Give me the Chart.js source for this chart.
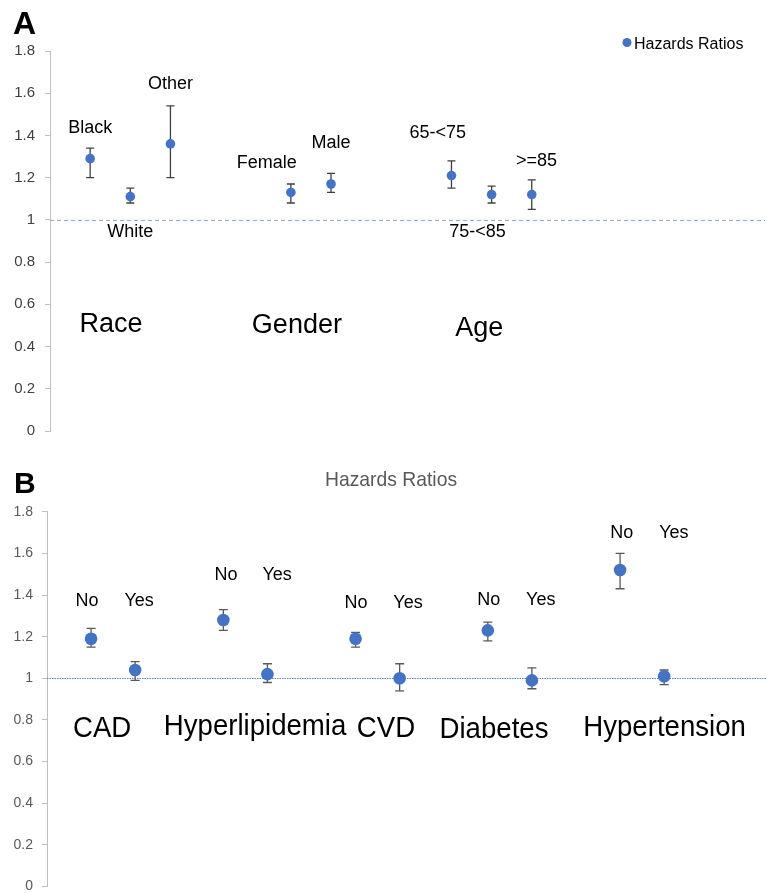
<!DOCTYPE html>
<html>
<head>
<meta charset="utf-8">
<script src="https://cdn.jsdelivr.net/npm/chart.js@4.4.1/dist/chart.umd.min.js"></script>
<style>
  html, body { margin: 0; padding: 0; background: #fff; overflow: hidden; }
  #wrapA { position: absolute; left: 0; top: 0; width: 767px; height: 450px; }
  #wrapB { position: absolute; left: 0; top: 450px; width: 767px; height: 460px; }
</style>
</head>
<body>
<div id="wrapA"><canvas id="chartA" width="767" height="450"></canvas></div>
<div id="wrapB"><canvas id="chartB" width="767" height="460"></canvas></div>
<script>
// ---- Panel A data ----
const groupsA = ['Black', 'White', 'Other', 'Female', 'Male', '65-<75', '75-<85', '>=85'];
const slotsA = [1, 2, 3, 6, 7, 10, 11, 12];
const hrA = [1.29, 1.11, 1.36, 1.13, 1.17, 1.21, 1.12, 1.12];
const lowA = [1.20, 1.08, 1.20, 1.08, 1.13, 1.15, 1.08, 1.05];
const highA = [1.34, 1.15, 1.54, 1.17, 1.22, 1.28, 1.16, 1.19];
const categoriesA = ['Race', 'Gender', 'Age'];

// ---- Panel B data ----
const groupsB = ['No', 'Yes', 'No', 'Yes', 'No', 'Yes', 'No', 'Yes', 'No', 'Yes'];
const slotsB = [1, 2, 4, 5, 7, 8, 10, 11, 13, 14];
const hrB = [1.19, 1.04, 1.28, 1.02, 1.19, 1.00, 1.23, 0.99, 1.52, 1.01];
const lowB = [1.15, 0.99, 1.23, 0.98, 1.15, 0.94, 1.18, 0.95, 1.43, 0.97];
const highB = [1.24, 1.08, 1.33, 1.07, 1.22, 1.07, 1.27, 1.05, 1.60, 1.04];
const categoriesB = ['CAD', 'Hyperlipidemia', 'CVD', 'Diabetes', 'Hypertension'];

const seriesName = 'Hazards Ratios';
const yTickValues = [0, 0.2, 0.4, 0.6, 0.8, 1, 1.2, 1.4, 1.6, 1.8];
const yTickLabels = ['0', '0.2', '0.4', '0.6', '0.8', '1', '1.2', '1.4', '1.6', '1.8'];

// where the annotation texts sit, in axis units
const groupLabelPosA = [[1, 1.411], [2, 0.921], [3, 1.619], [5.4, 1.246], [7, 1.341], [9.66, 1.388], [10.65, 0.917], [12.12, 1.256]];
const catLabelPosA = [[1.52, 0.47], [6.15, 0.465], [10.69, 0.45]];
const groupLabelPosB = [[0.91, 1.347], [2.09, 1.347], [4.06, 1.47], [5.22, 1.47], [7.01, 1.337], [8.19, 1.34], [10.02, 1.354], [11.2, 1.354], [13.04, 1.676], [14.22, 1.676]];
const catLabelPosB = [[1.25, 0.72], [4.72, 0.73], [7.69, 0.72], [10.14, 0.713], [14.01, 0.725]];

Chart.defaults.font.family = "'Liberation Sans', Arial, sans-serif";
Chart.defaults.animation = false;

// reference line, error bars and all the text
const overlay = {
  id: 'overlay',
  beforeDatasetsDraw(chart, args, o) {
    const { ctx, chartArea, scales: { x, y } } = chart;
    ctx.save();
    ctx.strokeStyle = o.refColor;
    ctx.lineWidth = o.refWidth;
    ctx.setLineDash(o.refDash);
    const yr = Math.round(y.getPixelForValue(1)) + 0.5;
    ctx.beginPath();
    ctx.moveTo(chartArea.left, yr);
    ctx.lineTo(chart.width - o.refEnd, yr);
    ctx.stroke();
    ctx.setLineDash([]);

    ctx.strokeStyle = o.barColor;
    ctx.lineWidth = 1.3;
    o.slots.forEach((s, i) => {
      const px = x.getPixelForValue(s);
      const y1 = y.getPixelForValue(o.low[i]);
      const y2 = y.getPixelForValue(o.high[i]);
      ctx.beginPath();
      ctx.moveTo(px, y1); ctx.lineTo(px, y2);
      ctx.moveTo(px - o.cap, y1); ctx.lineTo(px + o.cap, y1);
      ctx.moveTo(px - o.cap, y2); ctx.lineTo(px + o.cap, y2);
      ctx.stroke();
    });
    ctx.restore();
  },
  afterDraw(chart, args, o) {
    const { ctx, scales: { x, y } } = chart;
    const put = (text, px, py, font, color, sx) => {
      ctx.save();
      ctx.font = font;
      ctx.fillStyle = color;
      ctx.textAlign = 'center';
      ctx.textBaseline = 'alphabetic';
      ctx.translate(px, py);
      ctx.scale(sx || 1, 1);
      ctx.fillText(text, 0, 0);
      ctx.restore();
    };
    o.texts.forEach(t => {
      t.labels.forEach((lab, i) => {
        put(lab, x.getPixelForValue(t.pos[i][0]), y.getPixelForValue(t.pos[i][1]), t.font, '#000', t.sx);
      });
    });
    ctx.save();
    ctx.font = o.letterFont;
    ctx.fillStyle = '#000';
    ctx.textAlign = 'left';
    ctx.fillText(o.letter, o.letterAt[0], o.letterAt[1]);
    ctx.restore();
    if (o.legend) {
      ctx.save();
      ctx.fillStyle = '#4472C4';
      ctx.beginPath();
      ctx.arc(627, 42.5, 4.5, 0, Math.PI * 2);
      ctx.fill();
      ctx.font = "16px 'Liberation Sans', Arial";
      ctx.fillStyle = '#000';
      ctx.textAlign = 'left';
      ctx.fillText(seriesName, 634, 48.5);
      ctx.restore();
    }
    if (o.title) {
      put(seriesName, 391, 36, "21px 'Liberation Sans', Arial", '#595959', 0.92);
    }
  }
};

function makeChart(id, slots, hr, low, high, opts) {
  return new Chart(document.getElementById(id), {
    type: 'scatter',
    data: {
      datasets: [{
        label: seriesName,
        data: slots.map((s, i) => ({ x: s, y: hr[i] })),
        backgroundColor: '#4472C4',
        borderColor: '#4472C4',
        borderWidth: 0,
        pointRadius: opts.radius,
        pointHoverRadius: opts.radius
      }]
    },
    options: {
      responsive: false,
      layout: { padding: opts.padding },
      scales: {
        x: { type: 'linear', min: 0, max: opts.xMax, display: false },
        y: {
          min: 0, max: 1.8,
          afterBuildTicks: s => { s.ticks = yTickValues.map(v => ({ value: v })); },
          afterFit: s => { s.width = opts.axisWidth; },
          ticks: {
            color: opts.tickColor,
            font: { size: opts.tickSize },
            padding: opts.tickPad,
            callback: (v, i) => yTickLabels[i]
          },
          grid: { drawOnChartArea: false, tickLength: 5, color: '#bfbfbf' },
          border: { color: '#bfbfbf' }
        }
      },
      plugins: {
        legend: { display: false },
        tooltip: { enabled: false },
        overlay: Object.assign({ slots, low, high }, opts.overlay)
      }
    },
    plugins: [overlay]
  });
}

makeChart('chartA', slotsA, hrA, lowA, highA, {
  radius: 4.8, xMax: 17.74, axisWidth: 50, tickColor: '#404040', tickSize: 15, tickPad: 10,
  padding: { top: 51, bottom: 17, left: 0, right: 0 },
  overlay: {
    refColor: '#8faadc', refDash: [4, 3], refWidth: 1, refEnd: 2, barColor: '#404040', cap: 4,
    texts: [
      { labels: groupsA, pos: groupLabelPosA, font: "18px 'Liberation Sans', Arial", sx: 1 },
      { labels: categoriesA, pos: catLabelPosA, font: "27px 'Liberation Sans', Arial", sx: 1 }
    ],
    letter: 'A', letterFont: "bold 32px 'Liberation Sans', Arial", letterAt: [13, 34],
    legend: true, title: false
  }
});

makeChart('chartB', slotsB, hrB, lowB, highB, {
  radius: 6.3, xMax: 16.19, axisWidth: 47, tickColor: '#595959', tickSize: 14, tickPad: 9,
  padding: { top: 61.7, bottom: 23.4, left: 0, right: 0 },
  overlay: {
    refColor: '#5b82cc', refDash: [1.5, 1], refWidth: 1, refEnd: 0, barColor: '#595959', cap: 4.5,
    texts: [
      { labels: groupsB, pos: groupLabelPosB, font: "18px 'Liberation Sans', Arial", sx: 1 },
      { labels: categoriesB, pos: catLabelPosB, font: "30px 'Liberation Sans', Arial", sx: 0.92 }
    ],
    letter: 'B', letterFont: "bold 30px 'Liberation Sans', Arial", letterAt: [14, 43],
    legend: false, title: true
  }
});
</script>
</body>
</html>
